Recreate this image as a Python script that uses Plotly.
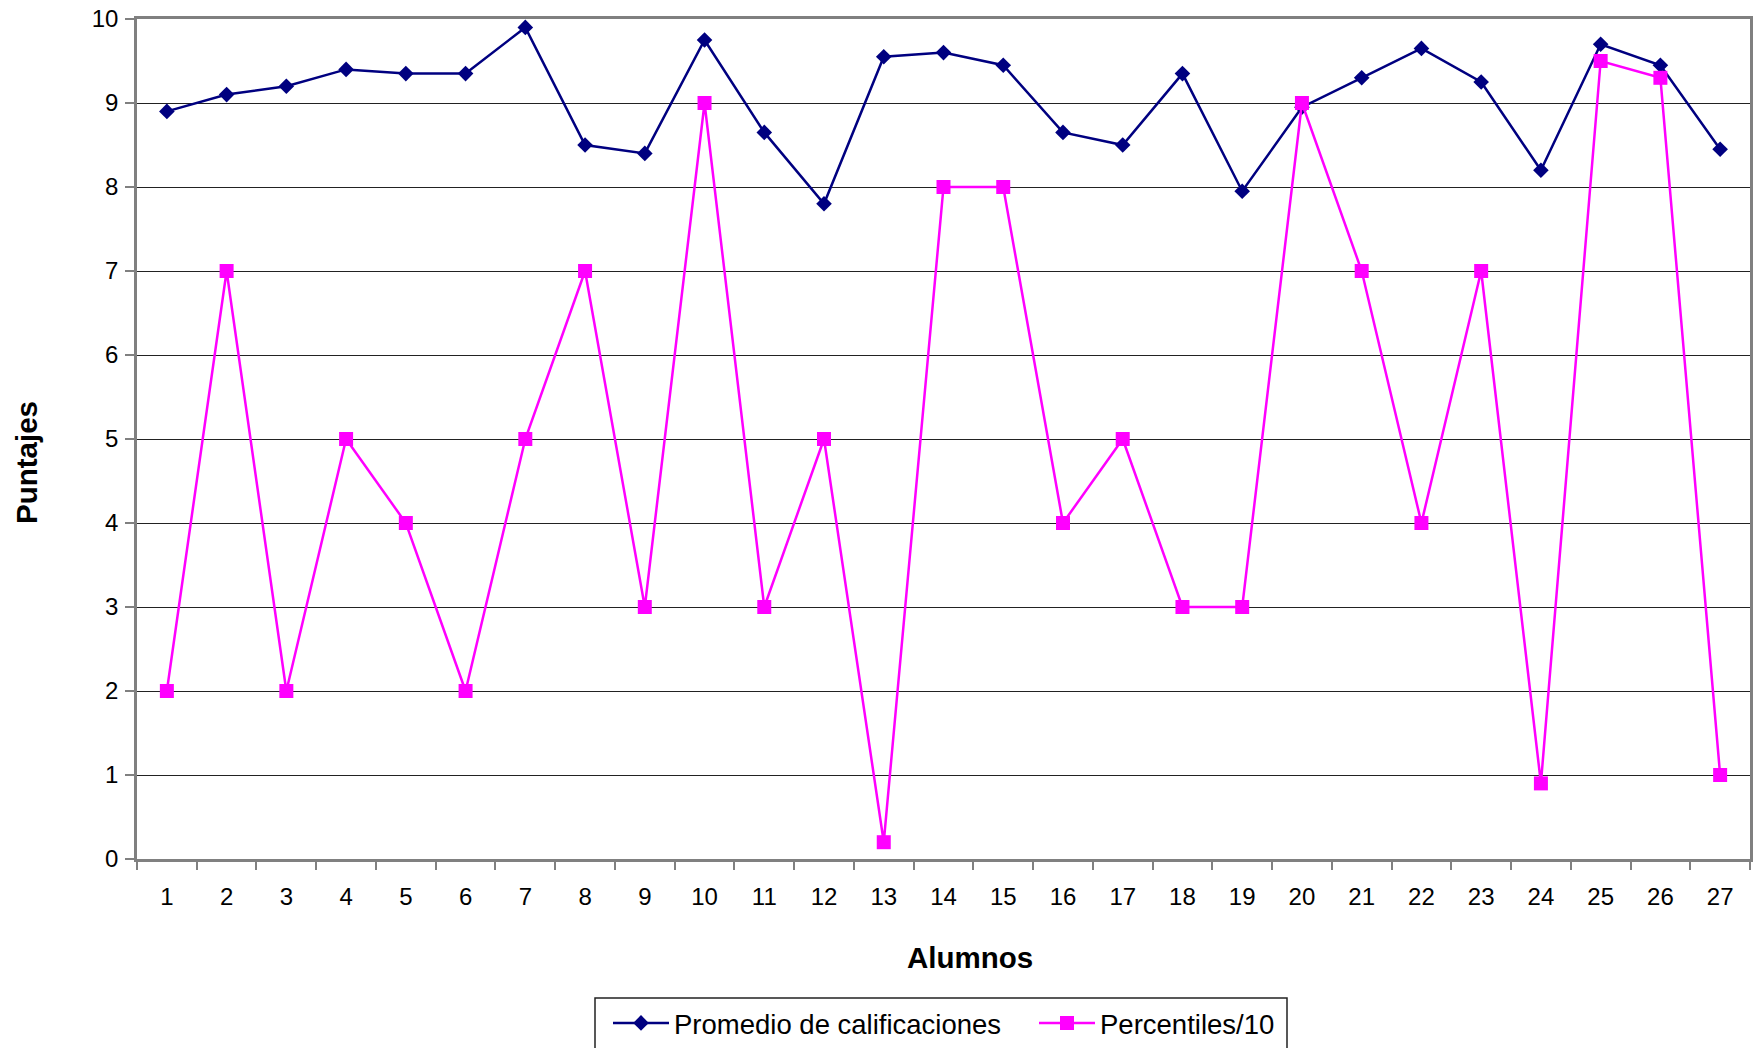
import plotly.graph_objects as go

alumnos = [str(i) for i in range(1, 28)]
promedio = [8.9, 9.1, 9.2, 9.4, 9.35, 9.35, 9.9, 8.5, 8.4, 9.75, 8.65, 7.8, 9.55, 9.6,
            9.45, 8.65, 8.5, 9.35, 7.95, 8.95, 9.3, 9.65, 9.25, 8.2, 9.7, 9.45, 8.45]
percentiles = [2, 7, 2, 5, 4, 2, 5, 7, 3, 9, 3, 5, 0.2, 8, 8, 4, 5, 3, 3, 9, 7, 4, 7,
               0.9, 9.5, 9.3, 1.0]
y_ticks = list(range(0, 11))

W, H = 1759, 1048
# plot area in pixels
PL, PR, PT, PB = 137, 1750, 19, 859
PW, PH = PR - PL, PB - PT


def px(x):
    return (x - PL) / PW


def py(y):
    return (PB - y) / PH


fig = go.Figure()
fig.add_trace(go.Scatter(
    x=alumnos, y=promedio, mode="lines+markers", name="Promedio de calificaciones",
    line=dict(color="#000080", width=2.5),
    marker=dict(symbol="diamond", size=12, color="#000080"),
    legend="legend",
))
fig.add_trace(go.Scatter(
    x=alumnos, y=percentiles, mode="lines+markers", name="Percentiles/10",
    line=dict(color="#FF00FF", width=2.5),
    marker=dict(symbol="square", size=14, color="#FF00FF"),
    legend="legend2",
))

font = "Liberation Sans, Arial, sans-serif"
leg_common = dict(orientation="h", xanchor="left", yanchor="middle",
                  bgcolor="rgba(0,0,0,0)", borderwidth=0,
                  font=dict(size=27.5), itemwidth=56, tracegroupgap=0)
fig.update_layout(
    width=W, height=H,
    margin=dict(l=PL, r=W - PR, t=PT, b=H - PB, pad=0, autoexpand=False),
    paper_bgcolor="white", plot_bgcolor="white",
    font=dict(family=font, size=24, color="black"),
    showlegend=True,
    legend=dict(x=px(608), y=py(1023), **leg_common),
    legend2=dict(x=px(1034), y=py(1023), **leg_common),
    xaxis=dict(
        type="category", tickson="boundaries", ticks="outside", ticklen=8,
        tickcolor="#808080", tickwidth=1.5,
        showline=True, linecolor="#808080", linewidth=2.5, mirror=True,
        showgrid=False, zeroline=False, automargin=False,
        tickfont=dict(size=24),
        ticklabelstandoff=14,
        range=[-0.5, 26.5],
    ),
    yaxis=dict(
        range=[0, 10], tickvals=y_ticks, ticks="outside", ticklen=9,
        tickcolor="#808080", tickwidth=1.5,
        showline=True, linecolor="#808080", linewidth=2.5, mirror=True,
        showgrid=True, gridcolor="#222222", gridwidth=1, zeroline=False,
        automargin=False,
        tickfont=dict(size=24),
        ticklabelstandoff=2, ticklabeloverflow="allow",
    ),
    annotations=[
        dict(text="<b>Alumnos</b>", xref="paper", yref="paper",
             x=px(970), y=py(957), showarrow=False, font=dict(size=29.5),
             xanchor="center", yanchor="middle"),
        dict(text="<b>Puntajes</b>", xref="paper", yref="paper",
             x=px(26), y=py(463), showarrow=False, font=dict(size=29.5),
             textangle=-90, xanchor="center", yanchor="middle"),
    ],
    shapes=[
        dict(type="rect", xref="paper", yref="paper",
             x0=px(595), x1=px(1287), y0=py(998), y1=py(1070),
             line=dict(color="#222222", width=1.5), fillcolor="rgba(0,0,0,0)",
             layer="below"),
    ],
)

# remove the browser's default 8px page margin so the figure fills the window
fig.write_html("out.html",
               config={"displayModeBar": False},
               post_script="document.body.style.margin='0px';"
                           "document.body.style.overflow='hidden';")
